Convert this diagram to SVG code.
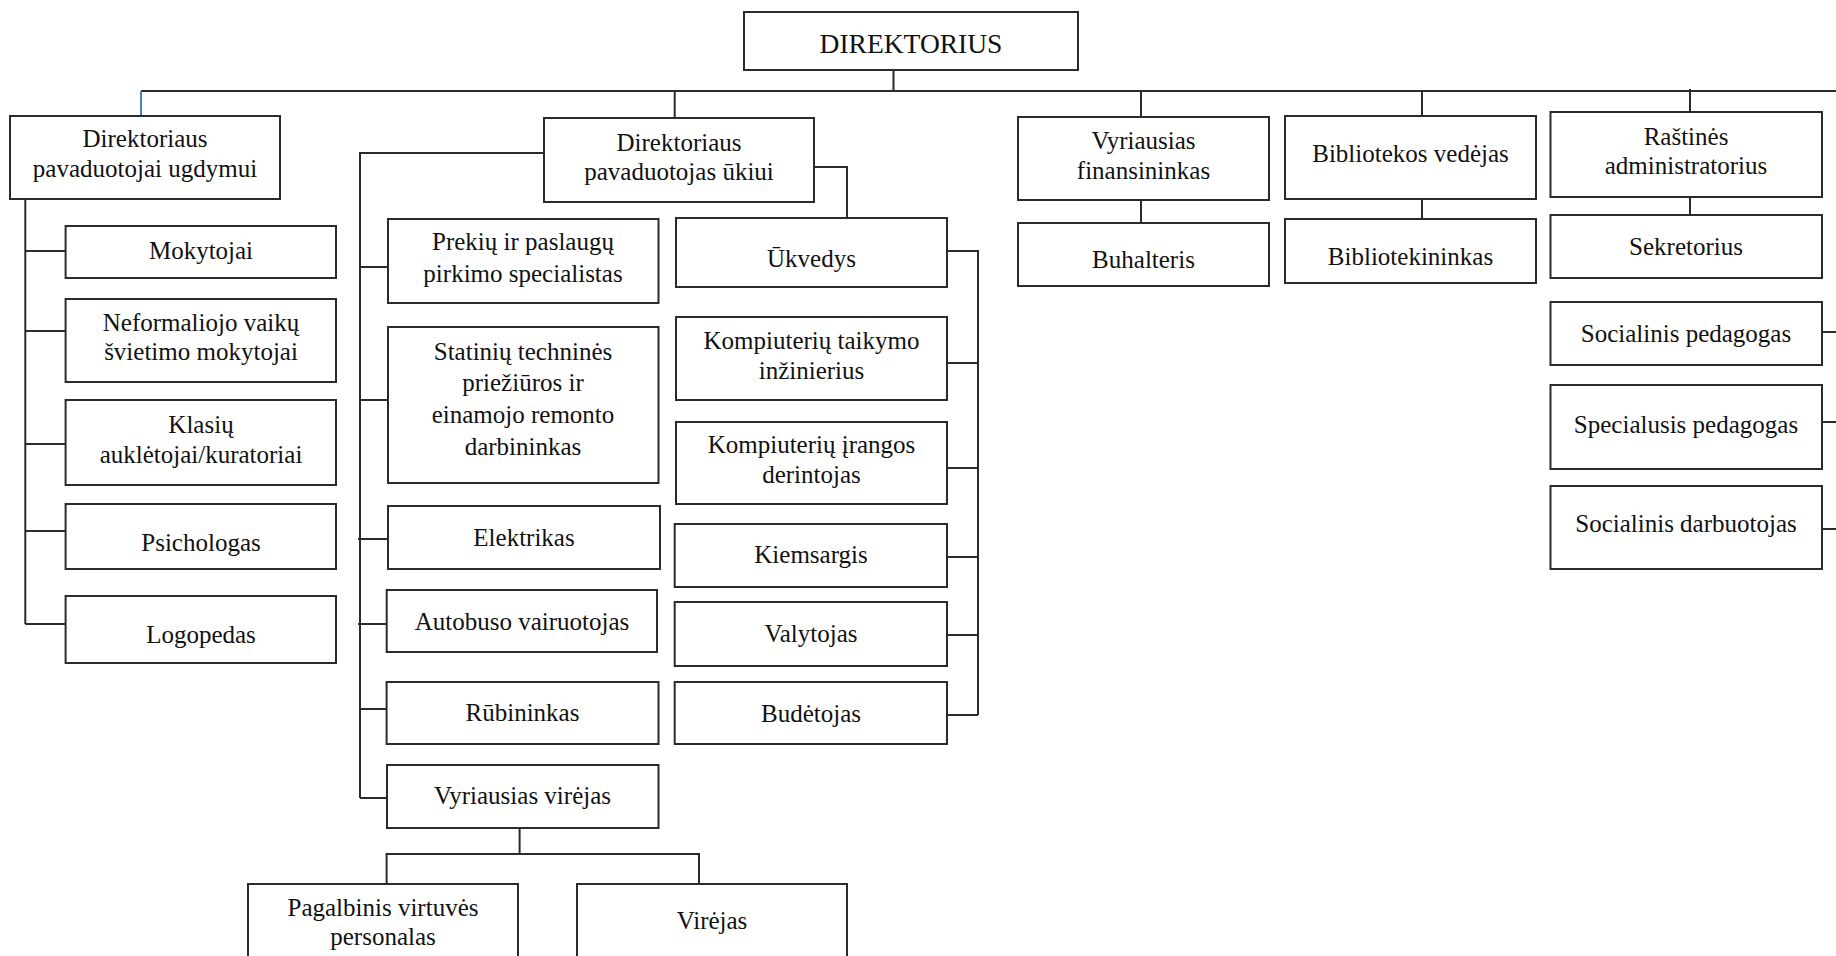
<svg xmlns="http://www.w3.org/2000/svg" width="1836" height="956" viewBox="0 0 1836 956">
<style>
rect{fill:#fff;stroke:#2b2b2b;stroke-width:2}
text{font-family:'Liberation Serif','DejaVu Serif',serif;font-size:25px;fill:#111;text-anchor:middle}
.big{font-size:27.5px}
#connectors path{fill:none;stroke:#2b2b2b;stroke-width:2}
#connectors .blue{stroke:#4a7cc9}
</style>
<rect x="0" y="0" width="1836" height="956" style="fill:#fff;stroke:none"/>
<g id="connectors">
<path d="M893.5 70V91M141 91H1836M674.7 91V118M1141 91V117M1141 200V223M1422 91V116M1422 199V219M1690 89V112M1690 197V215"/>
<path class="blue" d="M141 91V116"/>
<path d="M25.3 199V624M25.3 251H65.6M25.3 331H65.6M25.3 444H65.6M25.3 531H65.6M25.3 624H65.6"/>
<path d="M544 153H360V798M360 267H388M360 400H388M358 539H388M358 624H387M360 709H387M360 798H387"/>
<path d="M814 167H847V218"/>
<path d="M947 251H978V715M947 363H978M947 468H978M947 557H978M947 635H978M947 715H978"/>
<path d="M519.6 828V854M386.6 884V854H699V884"/>
<path d="M1822 332H1836M1822 422H1836M1822 529H1836"/>
</g>
<g id="n-direktorius"><rect x="744" y="12" width="334" height="58"/><text class="big" x="911" y="53">DIREKTORIUS</text></g>
<g id="n-ugdymui"><rect x="10" y="116" width="270" height="83"/><text x="145" y="147">Direktoriaus</text><text x="145" y="177">pavaduotojai ugdymui</text></g>
<g id="n-ukiui"><rect x="544" y="118" width="270" height="84"/><text x="679" y="151">Direktoriaus</text><text x="679" y="180">pavaduotojas ūkiui</text></g>
<g id="n-finansininkas"><rect x="1018" y="117" width="251" height="83"/><text x="1143.5" y="149">Vyriausias</text><text x="1143.5" y="179">finansininkas</text></g>
<g id="n-bibliotekos"><rect x="1285" y="116" width="251" height="83"/><text x="1410.5" y="162">Bibliotekos vedėjas</text></g>
<g id="n-rastines"><rect x="1550.5" y="112" width="271.5" height="85"/><text x="1686" y="145">Raštinės</text><text x="1686" y="174">administratorius</text></g>
<g id="n-buhalteris"><rect x="1018" y="223" width="251" height="63"/><text x="1143.5" y="268">Buhalteris</text></g>
<g id="n-bibliotekininkas"><rect x="1285" y="219" width="251" height="64"/><text x="1410.5" y="265">Bibliotekininkas</text></g>
<g id="n-sekretorius"><rect x="1550.5" y="215" width="271.5" height="63"/><text x="1686" y="255">Sekretorius</text></g>
<g id="n-socped"><rect x="1550.5" y="302" width="271.5" height="63"/><text x="1686" y="342">Socialinis pedagogas</text></g>
<g id="n-specped"><rect x="1550.5" y="385" width="271.5" height="84"/><text x="1686" y="433">Specialusis pedagogas</text></g>
<g id="n-socdarb"><rect x="1550.5" y="486" width="271.5" height="83"/><text x="1686" y="532">Socialinis darbuotojas</text></g>
<g id="n-mokytojai"><rect x="65.6" y="226" width="270.4" height="52"/><text x="201" y="259">Mokytojai</text></g>
<g id="n-neformaliojo"><rect x="65.6" y="299" width="270.4" height="83"/><text x="201" y="331">Neformaliojo vaikų</text><text x="201" y="360">švietimo mokytojai</text></g>
<g id="n-klasiu"><rect x="65.6" y="400" width="270.4" height="85"/><text x="201" y="433">Klasių</text><text x="201" y="463">auklėtojai/kuratoriai</text></g>
<g id="n-psichologas"><rect x="65.6" y="504" width="270.4" height="65"/><text x="201" y="551">Psichologas</text></g>
<g id="n-logopedas"><rect x="65.6" y="596" width="270.4" height="67"/><text x="201" y="643">Logopedas</text></g>
<g id="n-prekiu"><rect x="388" y="219" width="270.5" height="84"/><text x="523" y="250">Prekių ir paslaugų</text><text x="523" y="282">pirkimo specialistas</text></g>
<g id="n-statiniu"><rect x="388" y="327" width="270.5" height="156"/><text x="523" y="360">Statinių techninės</text><text x="523" y="391">priežiūros ir</text><text x="523" y="423">einamojo remonto</text><text x="523" y="455">darbininkas</text></g>
<g id="n-elektrikas"><rect x="388" y="506" width="272" height="63"/><text x="524" y="546">Elektrikas</text></g>
<g id="n-autobuso"><rect x="386.7" y="590" width="270.3" height="62"/><text x="522" y="630">Autobuso vairuotojas</text></g>
<g id="n-rubininkas"><rect x="386.6" y="682" width="271.9" height="62"/><text x="522.5" y="721">Rūbininkas</text></g>
<g id="n-vyrvirejas"><rect x="387" y="765" width="271.5" height="63"/><text x="522.5" y="804">Vyriausias virėjas</text></g>
<g id="n-pagalbinis"><rect x="248" y="884" width="270" height="90"/><text x="383" y="916">Pagalbinis virtuvės</text><text x="383" y="945">personalas</text></g>
<g id="n-virejas"><rect x="577" y="884" width="270" height="90"/><text x="712" y="929">Virėjas</text></g>
<g id="n-ukvedys"><rect x="676" y="218" width="271" height="69"/><text x="811.5" y="267">Ūkvedys</text></g>
<g id="n-komp-taikymo"><rect x="676" y="317" width="271" height="83"/><text x="811.5" y="349">Kompiuterių taikymo</text><text x="811.5" y="379">inžinierius</text></g>
<g id="n-komp-irangos"><rect x="676" y="422" width="271" height="82"/><text x="811.5" y="453">Kompiuterių įrangos</text><text x="811.5" y="483">derintojas</text></g>
<g id="n-kiemsargis"><rect x="674.7" y="524" width="272.3" height="63"/><text x="811" y="563">Kiemsargis</text></g>
<g id="n-valytojas"><rect x="674.7" y="602" width="272.3" height="64"/><text x="811" y="642">Valytojas</text></g>
<g id="n-budetojas"><rect x="674.7" y="682" width="272.3" height="62"/><text x="811" y="722">Budėtojas</text></g>
</svg>
